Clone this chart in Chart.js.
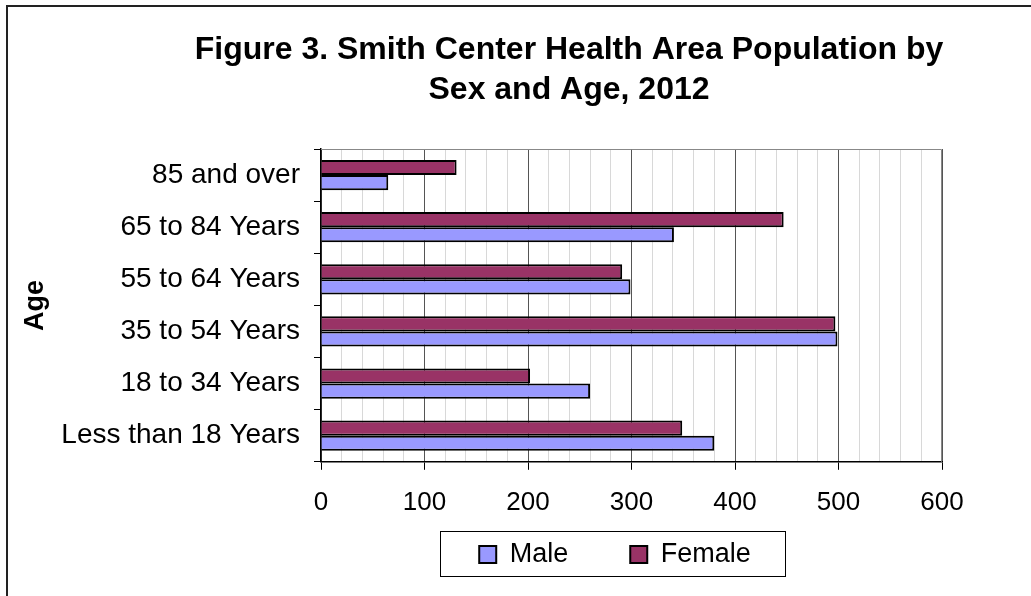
<!DOCTYPE html>
<html>
<head>
<meta charset="utf-8">
<script src="https://cdn.jsdelivr.net/npm/chart.js@4"></script>
<style>
  html, body { margin: 0; padding: 0; background: #fff; }
  #wrap { width: 1031px; height: 596px; }
</style>
</head>
<body>
<div id="wrap"><canvas id="popChart" width="1031" height="596"></canvas></div>
<script>
// age groups, top to bottom as in the figure
const ageGroups = ['85 and over', '65 to 84 Years', '55 to 64 Years', '35 to 54 Years', '18 to 34 Years', 'Less than 18 Years'];
const femaleCounts = [131, 447, 291, 497, 202, 349];
const maleCounts = [65, 341, 299, 499, 260, 380];
const xTickValues = [0, 100, 200, 300, 400, 500, 600];

const FONT = 'Liberation Sans, Arial, sans-serif';
const LEGEND_GAP = 62;

// white background + the outer frame (only left and top edges show)
const framePlugin = {
    id: 'frame',
    beforeDraw(chart) {
        const ctx = chart.ctx;
        ctx.save();
        ctx.fillStyle = '#fff';
        ctx.fillRect(0, 0, chart.width, chart.height);
        ctx.strokeStyle = '#222';
        ctx.lineWidth = 2;
        ctx.beginPath();
        ctx.moveTo(7, chart.height);
        ctx.lineTo(7, 6);
        ctx.lineTo(chart.width, 6);
        ctx.stroke();
        ctx.restore();
    },
    afterDatasetsDraw(chart) {
        // grey top/right edges of the plot area
        const a = chart.chartArea;
        const ctx = chart.ctx;
        ctx.save();
        ctx.strokeStyle = '#888';
        ctx.lineWidth = 1;
        ctx.beginPath();
        ctx.moveTo(a.left, a.top + 0.5);
        ctx.lineTo(a.right - 0.5, a.top + 0.5);
        ctx.lineTo(a.right - 0.5, a.bottom);
        ctx.stroke();
        ctx.restore();
    }
};

// legend box is fixed height, whatever the item padding
const legendFitPlugin = {
    id: 'legendFit',
    beforeLayout(chart) {
        const lg = chart.legend;
        if (lg && !lg._fixedFit) {
            const fit = lg.fit;
            lg.fit = function () { fit.call(this); this.height = 45; };
            lg._fixedFit = true;
        }
    }
};

// move the title and legend off the default centre, box the legend
const placePlugin = {
    id: 'place',
    afterLayout(chart) {
        const t = chart.titleBlock;
        if (t) { t.left = 569 - 440; t.right = 569 + 440; }
        const lg = chart.legend;
        if (lg) {
            lg.left = 615 - 320; lg.right = 615 + 320;
            lg.top = 531 + 10 - LEGEND_GAP; lg.bottom = chart.height;
        }
    },
    afterDraw(chart) {
        const ctx = chart.ctx;
        ctx.save();
        ctx.strokeStyle = '#000';
        ctx.lineWidth = 1;
        ctx.strokeRect(440.5, 531.5, 345, 45);
        ctx.restore();
    }
};

new Chart(document.getElementById('popChart'), {
    type: 'bar',
    data: {
        labels: ageGroups,
        datasets: [
            {
                label: 'Female',
                data: femaleCounts,
                backgroundColor: '#993366',
                borderColor: '#000',
                borderWidth: 2
            },
            {
                label: 'Male',
                data: maleCounts,
                backgroundColor: '#9999FF',
                borderColor: '#000',
                borderWidth: 2
            }
        ]
    },
    options: {
        indexAxis: 'y',
        responsive: false,
        animation: false,
        datasets: { bar: { categoryPercentage: 0.58, barPercentage: 1 } },
        layout: { padding: { left: 8, right: 89, top: 28, bottom: 16 } },
        plugins: {
            title: {
                display: true,
                text: ['Figure 3. Smith Center Health Area Population by', 'Sex and Age, 2012'],
                color: '#000',
                font: { family: FONT, size: 32, weight: 'bold', lineHeight: 40 / 32 },
                padding: { top: 2, bottom: 39 }
            },
            legend: {
                position: 'bottom',
                reverse: true,
                labels: {
                    color: '#000',
                    font: { family: FONT, size: 27 },
                    boxWidth: 17,
                    boxHeight: 17,
                    padding: LEGEND_GAP
                }
            },
            tooltip: { enabled: false }
        },
        scales: {
            x: {
                min: 0,
                max: 600,
                afterBuildTicks(scale) {
                    const t = [];
                    for (let v = 0; v <= 600; v += 20) t.push({ value: v });
                    scale.ticks = t;
                },
                ticks: {
                    autoSkip: false,
                    maxRotation: 0,
                    color: '#000',
                    font: { family: FONT, size: 26 },
                    padding: 17,
                    callback: v => xTickValues.includes(v) ? v : ''
                },
                grid: {
                    color: c => (c.tick && c.tick.value % 100 === 0) ? '#555' : '#d8d8d8',
                    tickColor: c => (c.tick && c.tick.value % 100 === 0) ? '#000' : 'rgba(0,0,0,0)',
                    tickLength: 8
                },
                border: { color: '#000', width: 1.5 }
            },
            y: {
                afterFit(scale) { scale.width = 313; },
                ticks: {
                    color: '#000',
                    font: { family: FONT, size: 28 },
                    padding: 14
                },
                grid: {
                    offset: true,
                    drawOnChartArea: false,
                    tickLength: 7,
                    color: '#000'
                },
                border: { color: '#000', width: 1.5 },
                title: {
                    display: true,
                    text: 'Age',
                    color: '#000',
                    font: { family: FONT, size: 27, weight: 'bold' },
                    padding: { top: 11, bottom: 0 }
                }
            }
        }
    },
    plugins: [framePlugin, legendFitPlugin, placePlugin]
});
</script>
</body>
</html>
